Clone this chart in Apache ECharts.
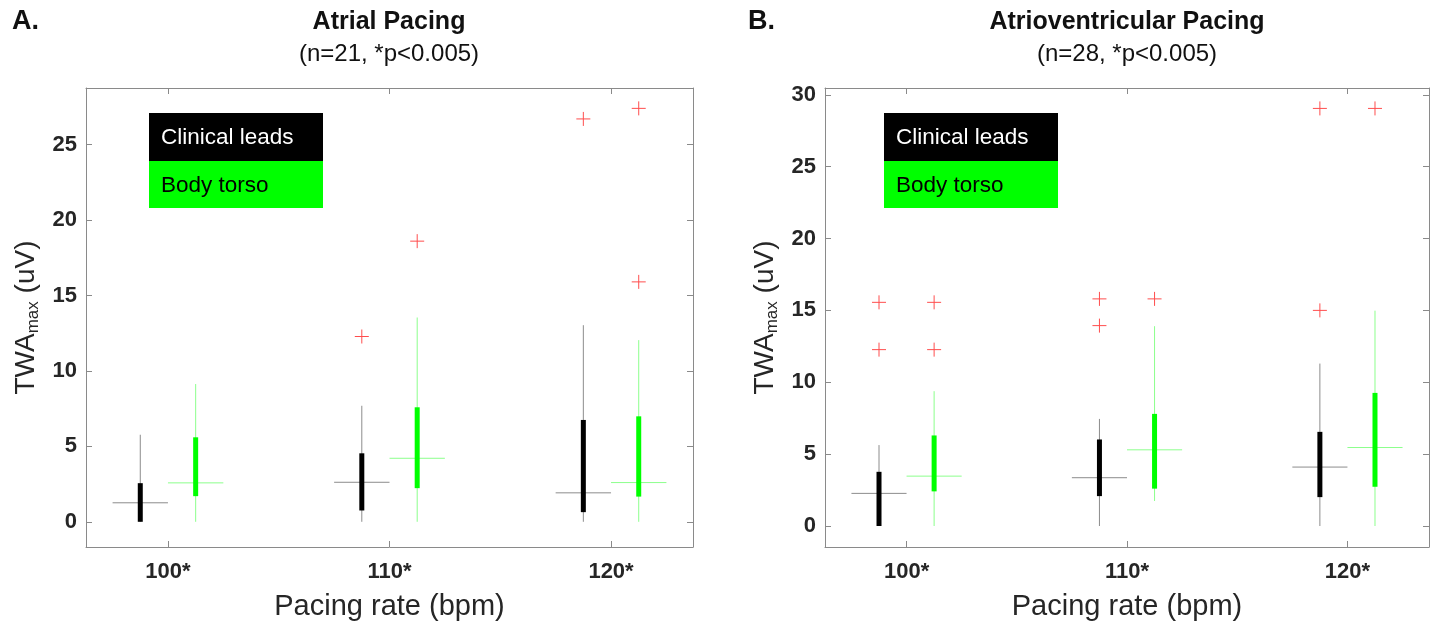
<!DOCTYPE html>
<html><head><meta charset="utf-8">
<script src="https://cdn.jsdelivr.net/npm/echarts@6/dist/echarts.min.js"></script>
<style>html,body{margin:0;padding:0;background:#fff;}#c{width:1437px;height:626px;}</style>
</head><body><div id="c"></div>
<script>
// ---------- data ----------
const rates = ['100*', '110*', '120*'];
const groupNames = ['Clinical leads', 'Body torso'];
// each row: [lower whisker, Q1, median, Q3, upper whisker]
const atrialClinical = [[0, 0, 1.26, 2.56, 5.77], [0, 0.75, 2.62, 4.54, 7.69], [0, 0.64, 1.92, 6.75, 13.03]];
const atrialTorso = [[0, 1.70, 2.58, 5.60, 9.13], [0, 2.23, 4.21, 7.59, 13.54], [0, 1.67, 2.60, 6.99, 12.04]];
const atrialClinicalOut = [[], [12.28], [26.7]];
const atrialTorsoOut = [[], [18.6], [27.4, 15.9]];
const avClinical = [[0, 0, 2.27, 3.77, 5.63], [0, 2.08, 3.36, 6.02, 7.45], [0, 2.01, 4.10, 6.55, 11.3]];
const avTorso = [[0, 2.41, 3.47, 6.30, 9.38], [1.74, 2.60, 5.30, 7.80, 13.9], [0, 2.73, 5.46, 9.26, 14.98]];
const avClinicalOut = [[15.56, 12.27], [15.8, 13.94], [29.05, 15.0]];
const avTorsoOut = [[15.56, 12.27], [15.8], [29.05]];
const yTicksA = [0, 5, 10, 15, 20, 25];
const yTicksB = [0, 5, 10, 15, 20, 25, 30];
const panelTitles = ['Atrial Pacing', 'Atrioventricular Pacing'];
const panelSubtitles = ['(n=21, *p<0.005)', '(n=28, *p<0.005)'];
const panelLetters = ['A.', 'B.'];

// ---------- helpers ----------
const FONT = '"Liberation Sans", Arial, Helvetica, sans-serif';
const TXT = '#262626';
const FRAME = '#8a8a8a';
const OFFSET = 0.125;     // group offset around category tick
const HALF = 0.125;       // median half-width (axis units)

function boxData(rows, sign) {
  return rows.map((r, i) => [i + 1 + sign * OFFSET].concat(r));
}
function outData(lists, sign) {
  const d = [];
  lists.forEach((l, i) => l.forEach(v => d.push([i + 1 + sign * OFFSET, v])));
  return d;
}
function boxRenderer(whiskerColor, boxColor, medianColor) {
  return function (params, api) {
    const x = api.value(0);
    const lo = api.coord([x, api.value(1)]);
    const q1 = api.coord([x, api.value(2)]);
    const md = api.value(3);
    const q3 = api.coord([x, api.value(4)]);
    const hi = api.coord([x, api.value(5)]);
    const mL = api.coord([x - HALF, md]);
    const mR = api.coord([x + HALF, md]);
    return {
      type: 'group',
      children: [
        {type: 'line', shape: {x1: lo[0], y1: lo[1], x2: hi[0], y2: hi[1]}, style: {stroke: whiskerColor, lineWidth: 1}},
        {type: 'line', shape: {x1: mL[0], y1: mL[1], x2: mR[0], y2: mR[1]}, style: {stroke: medianColor, lineWidth: 1}},
        {type: 'line', shape: {x1: q1[0], y1: q1[1], x2: q3[0], y2: q3[1]}, style: {stroke: boxColor, lineWidth: 5, lineCap: 'butt'}}
      ]
    };
  };
}
function plusRenderer(params, api) {
  const p = api.coord([api.value(0), api.value(1)]);
  const s = 7;
  return {
    type: 'group',
    children: [
      {type: 'line', shape: {x1: p[0] - s, y1: p[1], x2: p[0] + s, y2: p[1]}, style: {stroke: '#ff4d4d', lineWidth: 1}},
      {type: 'line', shape: {x1: p[0], y1: p[1] - s, x2: p[0], y2: p[1] + s}, style: {stroke: '#ff4d4d', lineWidth: 1}}
    ]
  };
}

const grids = [
  {left: 86, top: 88, width: 607, height: 460},
  {left: 825, top: 88, width: 604, height: 460}
];
const yRanges = [[-1.67, 28.75], [-1.46, 30.47]];
const yTicks = [yTicksA, yTicksB];

const xAxes = [], yAxes = [];
[0, 1].forEach(g => {
  xAxes.push({
    gridIndex: g, type: 'value', position: 'bottom', min: 0.63, max: 3.37,
    name: 'Pacing rate (bpm)', nameLocation: 'middle', nameGap: 45,
    nameTextStyle: {fontFamily: FONT, fontSize: 29, color: TXT},
    axisLine: {show: true, onZero: false, lineStyle: {color: FRAME, width: 1}},
    axisTick: {show: true, inside: true, length: 6, lineStyle: {color: FRAME}, customValues: [1, 2, 3]},
    axisLabel: {show: true, margin: 14, fontFamily: FONT, fontSize: 22, fontWeight: 'bold', color: TXT,
      customValues: [1, 2, 3], formatter: v => rates[Math.round(v) - 1]},
    splitLine: {show: false}
  });
  xAxes.push({
    gridIndex: g, type: 'value', position: 'top', min: 0.63, max: 3.37,
    axisLine: {show: true, onZero: false, lineStyle: {color: FRAME, width: 1}},
    axisTick: {show: true, inside: true, length: 6, lineStyle: {color: FRAME}, customValues: [1, 2, 3]},
    axisLabel: {show: false}, splitLine: {show: false}
  });
  yAxes.push({
    gridIndex: g, type: 'value', position: 'left', min: yRanges[g][0], max: yRanges[g][1],
    name: '{m|TWA}{s|max}{m| (uV)}', nameLocation: 'middle', nameGap: 44, nameRotate: 90,
    nameTextStyle: {rich: {
      m: {fontFamily: FONT, fontSize: 28, color: TXT, lineHeight: 32, verticalAlign: 'middle'},
      s: {fontFamily: FONT, fontSize: 17, color: TXT, lineHeight: 17, verticalAlign: 'bottom'}
    }},
    axisLine: {show: true, onZero: false, lineStyle: {color: FRAME, width: 1}},
    axisTick: {show: true, inside: true, length: 6, lineStyle: {color: FRAME}, customValues: yTicks[g]},
    axisLabel: {show: true, margin: 9, fontFamily: FONT, fontSize: 22, fontWeight: 'bold', color: TXT,
      customValues: yTicks[g]},
    splitLine: {show: false}
  });
  yAxes.push({
    gridIndex: g, type: 'value', position: 'right', min: yRanges[g][0], max: yRanges[g][1],
    axisLine: {show: true, onZero: false, lineStyle: {color: FRAME, width: 1}},
    axisTick: {show: true, inside: true, length: 6, lineStyle: {color: FRAME}, customValues: yTicks[g]},
    axisLabel: {show: false}, splitLine: {show: false}
  });
});

const panels = [
  {clin: atrialClinical, torso: atrialTorso, clinOut: atrialClinicalOut, torsoOut: atrialTorsoOut},
  {clin: avClinical, torso: avTorso, clinOut: avClinicalOut, torsoOut: avTorsoOut}
];
const series = [];
panels.forEach((p, g) => {
  const ax = {xAxisIndex: g * 2, yAxisIndex: g * 2};
  series.push(Object.assign({type: 'custom', name: groupNames[0], renderItem: boxRenderer('#8c8c8c', '#000000', '#8c8c8c'),
    encode: {x: 0, y: [1, 2, 3, 4, 5]}, data: boxData(p.clin, -1), silent: true}, ax));
  series.push(Object.assign({type: 'custom', name: groupNames[1], renderItem: boxRenderer('#8cff8c', '#00ff00', '#8cff8c'),
    encode: {x: 0, y: [1, 2, 3, 4, 5]}, data: boxData(p.torso, 1), silent: true}, ax));
  series.push(Object.assign({type: 'custom', name: groupNames[0] + ' outliers', renderItem: plusRenderer,
    encode: {x: 0, y: 1}, data: outData(p.clinOut, -1), silent: true}, ax));
  series.push(Object.assign({type: 'custom', name: groupNames[1] + ' outliers', renderItem: plusRenderer,
    encode: {x: 0, y: 1}, data: outData(p.torsoOut, 1), silent: true}, ax));
});

const graphic = [];
const centers = [389, 1127];
const letterX = [12, 748];
const legendX = [149, 884];
[0, 1].forEach(g => {
  graphic.push({type: 'text', left: letterX[g], top: 8, style: {text: panelLetters[g], font: 'bold 27px ' + FONT, fill: '#111'}});
  graphic.push({type: 'text', x: centers[g], y: 22, style: {text: panelTitles[g], font: 'bold 25px ' + FONT, fill: '#111', align: 'center', verticalAlign: 'middle'}});
  graphic.push({type: 'text', x: centers[g], y: 54, style: {text: panelSubtitles[g], font: '24px ' + FONT, fill: '#111', align: 'center', verticalAlign: 'middle'}});
  graphic.push({type: 'rect', shape: {x: legendX[g], y: 113, width: 174, height: 48}, style: {fill: '#000000'}});
  graphic.push({type: 'rect', shape: {x: legendX[g], y: 161, width: 174, height: 47}, style: {fill: '#00ff00'}});
  graphic.push({type: 'text', x: legendX[g] + 12, y: 138, style: {text: groupNames[0], font: '22.5px ' + FONT, fill: '#ffffff', verticalAlign: 'middle'}});
  graphic.push({type: 'text', x: legendX[g] + 12, y: 186, style: {text: groupNames[1], font: '22.5px ' + FONT, fill: '#000000', verticalAlign: 'middle'}});
});

const chart = echarts.init(document.getElementById('c'), null, {renderer: 'canvas'});
chart.setOption({
  animation: false,
  backgroundColor: '#ffffff',
  grid: grids,
  xAxis: xAxes,
  yAxis: yAxes,
  series: series,
  graphic: graphic
});
</script></body></html>
